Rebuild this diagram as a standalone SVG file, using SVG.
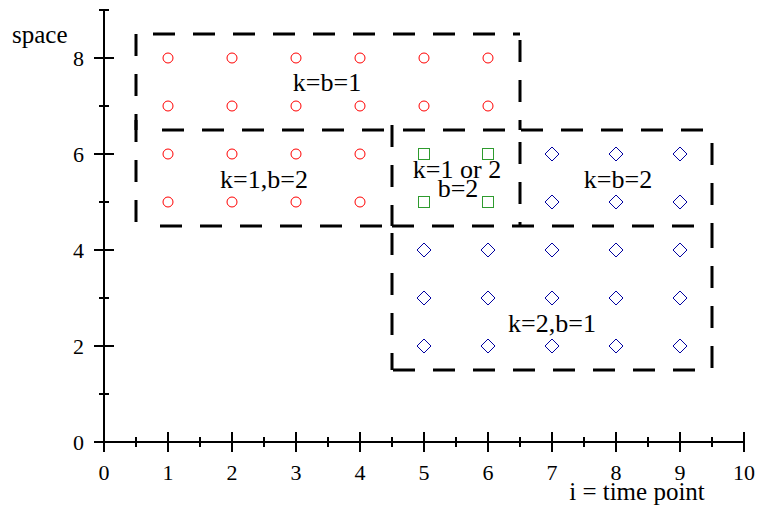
<svg xmlns="http://www.w3.org/2000/svg" width="759" height="510" viewBox="0 0 759 510">
<style>
.ax{stroke:#000;stroke-width:2;fill:none}
.box{stroke:#000;stroke-width:3;fill:none;stroke-dasharray:22 18}
.c{stroke:#ff0000;stroke-width:1;fill:none}
.s{stroke:#2e9b2e;stroke-width:1;fill:none}
.d{stroke:#0000a0;stroke-width:1;fill:none}
text{font-family:"Liberation Serif","DejaVu Serif",serif;fill:#000}
.tk{font-size:22px}
.al{font-size:25px}
.lb{font-size:26px}
</style>
<defs>
<circle id="cm" r="5" class="c"/>
<rect id="sm" x="-5.5" y="-5.5" width="11" height="11" class="s"/>
<path id="dm" d="M0,-7 L7,0 L0,7 L-7,0 Z" class="d"/>
</defs>
<g id="axes" font-family="Liberation Serif, DejaVu Serif, serif">
<path class="ax" d="M104,442 V10 M94,442 H744"/>
<path class="ax" d="M94,442H114M94,346H114M94,250H114M94,154H114M94,58H114M99,394H109M99,298H109M99,202H109M99,106H109M99,10H109"/>
<path class="ax" d="M104,432V452M168,432V452M232,432V452M296,432V452M360,432V452M424,432V452M488,432V452M552,432V452M616,432V452M680,432V452M744,432V452M136,437V447M200,437V447M264,437V447M328,437V447M392,437V447M456,437V447M520,437V447M584,437V447M648,437V447M712,437V447"/>
<g class="tk" text-anchor="end">
<text x="84" y="450">0</text>
<text x="84" y="354">2</text>
<text x="84" y="258">4</text>
<text x="84" y="162">6</text>
<text x="84" y="66">8</text>
</g>
<g class="tk" text-anchor="middle">
<text x="104" y="480">0</text>
<text x="168" y="480">1</text>
<text x="232" y="480">2</text>
<text x="296" y="480">3</text>
<text x="360" y="480">4</text>
<text x="424" y="480">5</text>
<text x="488" y="480">6</text>
<text x="552" y="480">7</text>
<text x="616" y="480">8</text>
<text x="680" y="480">9</text>
<text x="744" y="480">10</text>
</g>
<text class="al" x="12" y="43">space</text>
<text class="al" x="637" y="500" text-anchor="middle">i = time point</text>
</g>
<g id="connectors">
<path class="box" d="M153,34 H520"/>
<path class="box" d="M136,34 V130"/>
<path class="box" d="M520,40 V130"/>
<path class="box" d="M162,130 H392"/>
<path class="box" d="M403,130 H520"/>
<path class="box" d="M521,130 H712"/>
<path class="box" d="M136,120 V226"/>
<path class="box" d="M392,125 V226"/>
<path class="box" d="M520,142 V226"/>
<path class="box" d="M712,143 V226"/>
<path class="box" d="M160,226 H392"/>
<path class="box" d="M392,226 H712"/>
<path class="box" d="M392,233 V370"/>
<path class="box" d="M712,226 V370"/>
<path class="box" d="M393,370 H712"/>
</g>
<g id="points">
<use href="#cm" x="168" y="58"/><use href="#cm" x="232" y="58"/><use href="#cm" x="296" y="58"/><use href="#cm" x="360" y="58"/><use href="#cm" x="424" y="58"/><use href="#cm" x="488" y="58"/>
<use href="#cm" x="168" y="106"/><use href="#cm" x="232" y="106"/><use href="#cm" x="296" y="106"/><use href="#cm" x="360" y="106"/><use href="#cm" x="424" y="106"/><use href="#cm" x="488" y="106"/>
<use href="#cm" x="168" y="154"/><use href="#cm" x="232" y="154"/><use href="#cm" x="296" y="154"/><use href="#cm" x="360" y="154"/>
<use href="#cm" x="168" y="202"/><use href="#cm" x="232" y="202"/><use href="#cm" x="296" y="202"/><use href="#cm" x="360" y="202"/>
<use href="#sm" x="424" y="154"/><use href="#sm" x="488" y="154"/><use href="#sm" x="424" y="202"/><use href="#sm" x="488" y="202"/>
<use href="#dm" x="552" y="154"/><use href="#dm" x="616" y="154"/><use href="#dm" x="680" y="154"/>
<use href="#dm" x="552" y="202"/><use href="#dm" x="616" y="202"/><use href="#dm" x="680" y="202"/>
<use href="#dm" x="424" y="250"/><use href="#dm" x="488" y="250"/><use href="#dm" x="552" y="250"/><use href="#dm" x="616" y="250"/><use href="#dm" x="680" y="250"/>
<use href="#dm" x="424" y="298"/><use href="#dm" x="488" y="298"/><use href="#dm" x="552" y="298"/><use href="#dm" x="616" y="298"/><use href="#dm" x="680" y="298"/>
<use href="#dm" x="424" y="346"/><use href="#dm" x="488" y="346"/><use href="#dm" x="552" y="346"/><use href="#dm" x="616" y="346"/><use href="#dm" x="680" y="346"/>
</g>
<g id="labels" class="lb" text-anchor="middle" font-family="Liberation Serif, DejaVu Serif, serif">
<g id="n1"><text x="327" y="91">k=b=1</text></g>
<g id="n2"><text x="264" y="188">k=1,b=2</text></g>
<g id="n3"><text x="457" y="178">k=1 or 2</text><text x="458" y="197">b=2</text></g>
<g id="n4"><text x="618" y="188">k=b=2</text></g>
<g id="n5"><text x="552" y="332">k=2,b=1</text></g>
</g>
</svg>
